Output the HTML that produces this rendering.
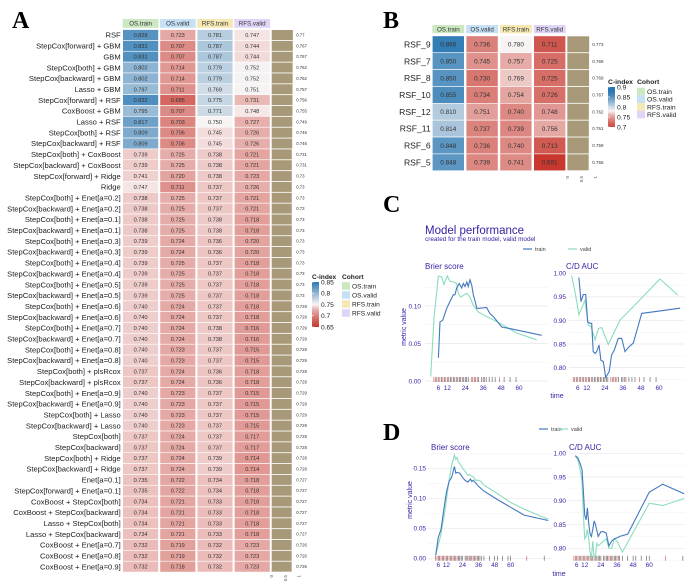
<!DOCTYPE html>
<html><head><meta charset="utf-8">
<style>
html,body{margin:0;padding:0;background:#fff;}
svg{display:block;font-family:"Liberation Sans",sans-serif;}
</style></head>
<body>
<svg id="fig" width="685" height="584" viewBox="0 0 685 584" xmlns="http://www.w3.org/2000/svg">
<text x="12" y="28" font-family="Liberation Serif" font-weight="bold" font-size="24">A</text>
<text x="383" y="28" font-family="Liberation Serif" font-weight="bold" font-size="24">B</text>
<text x="383" y="212" font-family="Liberation Serif" font-weight="bold" font-size="24">C</text>
<text x="383" y="440" font-family="Liberation Serif" font-weight="bold" font-size="24">D</text>
</svg>
<script>
// ---------- Panel A data ----------
const aModels = ["RSF","StepCox[forward] + GBM","GBM","StepCox[both] + GBM","StepCox[backward] + GBM","Lasso + GBM","StepCox[forward] + RSF","CoxBoost + GBM","Lasso + RSF","StepCox[both] + RSF","StepCox[backward] + RSF","StepCox[both] + CoxBoost","StepCox[backward] + CoxBoost","StepCox[forward] + Ridge","Ridge","StepCox[both] + Enet[a=0.2]","StepCox[backward] + Enet[a=0.2]","StepCox[both] + Enet[a=0.1]","StepCox[backward] + Enet[a=0.1]","StepCox[both] + Enet[a=0.3]","StepCox[backward] + Enet[a=0.3]","StepCox[both] + Enet[a=0.4]","StepCox[backward] + Enet[a=0.4]","StepCox[both] + Enet[a=0.5]","StepCox[backward] + Enet[a=0.5]","StepCox[both] + Enet[a=0.6]","StepCox[backward] + Enet[a=0.6]","StepCox[both] + Enet[a=0.7]","StepCox[backward] + Enet[a=0.7]","StepCox[both] + Enet[a=0.8]","StepCox[backward] + Enet[a=0.8]","StepCox[both] + plsRcox","StepCox[backward] + plsRcox","StepCox[both] + Enet[a=0.9]","StepCox[backward] + Enet[a=0.9]","StepCox[both] + Lasso","StepCox[backward] + Lasso","StepCox[both]","StepCox[backward]","StepCox[both] + Ridge","StepCox[backward] + Ridge","Enet[a=0.1]","StepCox[forward] + Enet[a=0.1]","CoxBoost + StepCox[both]","CoxBoost + StepCox[backward]","Lasso + StepCox[both]","Lasso + StepCox[backward]","CoxBoost + Enet[a=0.7]","CoxBoost + Enet[a=0.8]","CoxBoost + Enet[a=0.9]"];
const aOsTrain = [0.828,0.831,0.831,0.802,0.802,0.797,0.832,0.795,0.817,0.809,0.809,0.739,0.739,0.741,0.747,0.738,0.738,0.738,0.738,0.739,0.739,0.739,0.739,0.739,0.739,0.740,0.740,0.740,0.740,0.740,0.740,0.737,0.737,0.740,0.740,0.740,0.740,0.737,0.737,0.737,0.737,0.735,0.735,0.734,0.734,0.734,0.734,0.732,0.732,0.732];
const aOsValid = [0.723,0.707,0.707,0.714,0.714,0.711,0.685,0.707,0.703,0.706,0.706,0.725,0.725,0.720,0.711,0.725,0.725,0.725,0.725,0.724,0.724,0.725,0.725,0.725,0.725,0.724,0.724,0.724,0.724,0.723,0.723,0.724,0.724,0.723,0.723,0.723,0.723,0.724,0.724,0.724,0.724,0.722,0.722,0.721,0.721,0.721,0.721,0.719,0.719,0.718];
const aRfsTrain = [0.781,0.787,0.787,0.779,0.779,0.769,0.775,0.771,0.750,0.745,0.745,0.738,0.738,0.738,0.737,0.737,0.737,0.738,0.738,0.736,0.736,0.737,0.737,0.737,0.737,0.737,0.737,0.738,0.738,0.737,0.737,0.736,0.736,0.737,0.737,0.737,0.737,0.737,0.737,0.739,0.739,0.734,0.734,0.733,0.733,0.733,0.733,0.732,0.732,0.732];
const aRfsValid = [0.747,0.744,0.744,0.752,0.752,0.751,0.731,0.748,0.727,0.726,0.726,0.721,0.721,0.723,0.726,0.721,0.721,0.718,0.718,0.720,0.720,0.718,0.718,0.718,0.718,0.718,0.718,0.716,0.716,0.715,0.715,0.718,0.718,0.715,0.715,0.715,0.715,0.717,0.717,0.714,0.714,0.718,0.718,0.718,0.718,0.718,0.718,0.723,0.723,0.723];
const aMean = [0.77,0.767,0.767,0.762,0.762,0.757,0.756,0.755,0.749,0.746,0.746,0.731,0.731,0.73,0.73,0.73,0.73,0.73,0.73,0.73,0.73,0.73,0.73,0.73,0.73,0.729,0.729,0.729,0.729,0.729,0.729,0.729,0.729,0.729,0.729,0.729,0.729,0.728,0.728,0.728,0.728,0.727,0.727,0.727,0.727,0.727,0.727,0.726,0.726,0.726];
const aLegendTicks = [0.85,0.8,0.75,0.7,0.65];

// ---------- Panel B data ----------
const bModels = ["RSF_9","RSF_7","RSF_8","RSF_10","RSF_12","RSF_11","RSF_6","RSF_5"];
const bOsTrain = [0.866,0.850,0.850,0.855,0.810,0.814,0.848,0.848];
const bOsValid = [0.736,0.745,0.730,0.734,0.751,0.737,0.736,0.739];
const bRfsTrain = [0.780,0.757,0.769,0.754,0.740,0.739,0.740,0.741];
const bRfsValid = [0.711,0.725,0.725,0.726,0.748,0.756,0.713,0.691];
const bMean = [0.773,0.769,0.769,0.767,0.762,0.761,0.759,0.755];
const bLegendTicks = [0.9,0.85,0.8,0.75,0.7];

const cohorts = ["OS.train","OS.valid","RFS.train","RFS.valid"];
const barTicks = ["0","0.5","1"];

// ---------- Panel C data ----------
const cBrierTrainT = [6,7.1,8.9,11.6,13.8,16,17.1,18.3,20,21.6,22.7,23.8,25,26,27.2,28.3,29.4,30.1,31.7,33.4,38.3,40.5,42.8,48.4,56.2,75.2];
const cBrierTrainV = [0.031,0.079,0.081,0.097,0.106,0.115,0.115,0.124,0.130,0.124,0.130,0.126,0.132,0.126,0.135,0.128,0.115,0.110,0.097,0.097,0.098,0.090,0.086,0.072,0.069,0.061];
const cBrierValidT = [0.9,3.1,6,8.2,9.8,12,13.8,16,18.3,19.3,20.9,25,27.2,29.4,32.7,38.3,47.3,58.4,71.8];
const cBrierValidV = [0.006,0.084,0.140,0.139,0.129,0.140,0.133,0.132,0.130,0.117,0.112,0.117,0.112,0.101,0.092,0.086,0.077,0.064,0.055];
const cAucTrainT = [6.8,8.2,9.7,11.3,12.6,14.1,15.3,16.3,17.5,18.6,20.1,21.4,23,24.6,26.8,28.5,30.3,32.9,35.2,37.4,40,42.9,48.5,74];
const cAucTrainV = [0.991,0.940,0.955,0.955,0.897,0.894,0.894,0.834,0.830,0.834,0.848,0.816,0.813,0.779,0.791,0.827,0.837,0.862,0.862,0.834,0.844,0.852,0.915,0.926];
const cAucValidT = [2,4.2,6.8,8.6,10.8,13,14.8,17.5,19.7,21.9,26.3,34.1,41.8,60.6,72.4];
const cAucValidV = [0.995,0.961,0.912,0.926,0.943,0.890,0.887,0.859,0.883,0.885,0.849,0.901,0.926,0.988,0.954];
const cRugT = [3,4,5,6,7,8,9,10,11,12,13,14,15,16,17,18,19,20,21,22,23,24,25,26,28,29,30,31,32,33,35,36,37,38,40,42,44,47,50,54,58];
const cRugEvent = [1,1,0,1,1,0,1,0,1,1,0,0,1,0,0,1,0,0,0,1,0,0,0,0,1,1,0,1,1,0,0,0,1,0,0,0,0,1,0,0,0];

// ---------- Panel D data ----------
const dBrierTrainT = [4,6,8,10,12,14,16,18,19,20,22,24,26,28,30,31,32,34,36,40,50,60,70,88];
const dBrierTrainV = [0.005,0.035,0.048,0.08,0.11,0.128,0.135,0.153,0.142,0.143,0.142,0.135,0.13,0.127,0.132,0.128,0.130,0.125,0.12,0.112,0.098,0.085,0.072,0.063];
const dBrierValidT = [4,8,11,14,16,18,19,20,21,22,24,26,28,29,30,32,34,36,38,40,50,60,70,88];
const dBrierValidV = [0.005,0.04,0.08,0.13,0.155,0.172,0.165,0.168,0.160,0.158,0.150,0.145,0.138,0.140,0.138,0.136,0.130,0.130,0.128,0.122,0.108,0.093,0.082,0.065];
const dAucTrainT = [5,7,9,10,11,12,13,14,15,16,17,18,19,20,22,24,26,28,30,32,34,36,38,44,60,70,86];
const dAucTrainV = [0.995,0.99,0.975,0.965,0.92,0.87,0.86,0.885,0.85,0.83,0.825,0.84,0.858,0.85,0.825,0.835,0.835,0.832,0.805,0.815,0.82,0.822,0.825,0.83,0.918,0.935,0.915];
const dAucValidT = [5,7,9,10,11,12,13,14,15,16,17,18,19,20,21,22,24,26,28,30,32,34,36,40,60,70,86];
const dAucValidV = [0.995,0.985,0.96,0.94,0.87,0.82,0.825,0.84,0.82,0.79,0.78,0.815,0.78,0.785,0.81,0.805,0.81,0.815,0.82,0.80,0.80,0.82,0.815,0.792,0.895,0.89,0.905];
const dRugT = [4,5,6,7,8,9,10,11,12,13,14,15,16,17,18,19,20,21,22,23,24,26,27,28,29,30,31,32,33,34,35,36,37,38,40,44,48,50,54,58,60,72,85];
const dRugEvent = [1,1,1,0,1,1,0,1,1,0,1,1,0,1,0,1,1,0,0,0,0,0,1,0,0,1,0,1,0,1,0,0,1,0,0,0,0,0,0,0,0,1,0];
const xTicks = [6,12,24,36,48,60];

const NS = "http://www.w3.org/2000/svg";
const svg = document.getElementById("fig");
function el(tag, attrs, parent, txt){
  const e = document.createElementNS(NS, tag);
  for (const k in attrs) e.setAttribute(k, attrs[k]);
  if (txt !== undefined) e.textContent = txt;
  (parent || svg).appendChild(e);
  return e;
}
function hex(c){return [parseInt(c.slice(1,3),16),parseInt(c.slice(3,5),16),parseInt(c.slice(5,7),16)];}
function mix(a,b,t){const A=hex(a),B=hex(b);return "rgb("+A.map((v,i)=>Math.round(v+(B[i]-v)*t)).join(",")+")";}
function colorScale(lo,mid,hi){
  return function(v){
    if (v<mid){let t=Math.min(1,(mid-v)/(mid-lo));return mix("#f8f4f4","#c8372d",Math.pow(t,0.7));}
    let t=Math.min(1,(v-mid)/(hi-mid));return mix("#f8f4f4","#2a78b2",t);
  };
}
const cohortColors = ["#cbe8c3","#c6e0f6","#f6e8b3","#e0d5f7"];
function fmtMean(v){return String(parseFloat(v.toFixed(3)));}

function heatmap(cfg){
  const g = el("g",{});
  
  
  const series = [cfg.c1,cfg.c2,cfg.c3,cfg.c4];
  const col = colorScale(cfg.lo,cfg.mid,cfg.hi);
  cohorts.forEach((c,j)=>{
    const x = cfg.x0 + j*cfg.pitch;
    const r = el("rect",{x:x,y:cfg.hy,width:cfg.cw,height:cfg.hh,fill:cohortColors[j]},g);
    
    
    const t = el("text",{x:x+cfg.cw/2,y:cfg.hy+cfg.hh/2+cfg.hf*0.36,"text-anchor":"middle","font-size":cfg.hf,fill:"#333"},g,c);
    
    
  });
  cfg.models.forEach((m,i)=>{
    const cy = cfg.y0 + i*cfg.rp;
    const lab = el("text",{x:cfg.lx,y:cy+cfg.lf*0.36,"text-anchor":"end","font-size":cfg.lf,fill:"#222"},g,m);
    
    
    series.forEach((s,j)=>{
      const x = cfg.x0 + j*cfg.pitch;
      const r = el("rect",{x:x,y:cy-cfg.rp/2,width:cfg.cw,height:cfg.rp,fill:col(s[i]),stroke:"#fff","stroke-width":0.6},g);
      
      
      const t = el("text",{x:x+cfg.cw/2,y:cy+cfg.cf*0.36,"text-anchor":"middle","font-size":cfg.cf,fill:"#333"},g,s[i].toFixed(3));
      
      
    });
    const bw = cfg.mean[i]*cfg.bscale;
    const b = el("rect",{x:cfg.bx,y:cy-cfg.rh/2,width:bw,height:cfg.rh,fill:"#a89a78"},g);
    
    
    const bt = el("text",{x:cfg.bx+cfg.bw+3,y:cy+cfg.mf*0.36,"font-size":cfg.mf,fill:"#333"},g,fmtMean(cfg.mean[i]));
    
    
  });
  barTicks.forEach((tk)=>{
    const x = cfg.bx + parseFloat(tk)*cfg.bscale;
    const t = el("text",{x:0,y:0,"font-size":4.5,fill:"#555","text-anchor":"end",transform:"translate("+(x+1.5)+","+cfg.tky+") rotate(-90)"},g,tk);
    
    
  });
  const L = cfg.leg;
  const gid = "grad"+cfg.name;
  const defs = el("defs",{},g);
  const lg = el("linearGradient",{id:gid,x1:0,y1:0,x2:0,y2:1},defs);
  for (let k=0;k<=10;k++){
    const v = cfg.legHi - (cfg.legHi-cfg.legLo)*k/10;
    el("stop",{offset:(k*10)+"%","stop-color":col(v)},lg);
  }
  const tt = el("text",{x:L.x,y:L.ty,"font-size":L.f,"font-weight":"bold",fill:"#222"},g,"C-index");
  
  
  const cb = el("rect",{x:L.x,y:L.y0,width:7,height:L.y1-L.y0,fill:"url(#"+gid+")"},g);
  
  
  cfg.legTicks.forEach(v=>{
    const y = L.y0 + (cfg.legHi-v)/(cfg.legHi-cfg.legLo)*(L.y1-L.y0);
    el("line",{x1:L.x,x2:L.x+2,y1:y,y2:y,stroke:"#fff","stroke-width":0.6},g);
    const t = el("text",{x:L.x+9,y:y+L.f*0.36,"font-size":L.f,fill:"#222"},g,String(v));
    
    
  });
  const ct = el("text",{x:L.cx,y:L.ty,"font-size":L.f,"font-weight":"bold",fill:"#222"},g,"Cohort");
  
  
  cohorts.forEach((c,j)=>{
    const y = L.cy0 + j*L.cp;
    const r = el("rect",{x:L.cx,y:y-3.8,width:8,height:7.6,fill:cohortColors[j]},g);
    
    
    const t = el("text",{x:L.cx+10,y:y+L.f*0.36,"font-size":L.f,fill:"#222"},g,c);
    
    
  });
}

heatmap({name:"heatmap-a",models:aModels,c1:aOsTrain,c2:aOsValid,c3:aRfsTrain,c4:aRfsValid,mean:aMean,
  lo:0.65,mid:0.75,hi:0.85,x0:122.7,pitch:37.2,cw:35.8,hy:19,hh:8.8,hf:6.2,y0:35,rp:10.85,rh:10,
  lx:120.7,lf:7.6,cf:5.6,bx:271.7,bw:21.5,bscale:27.5,mf:4.3,tky:575,
  legLo:0.65,legHi:0.85,legTicks:aLegendTicks,
  leg:{x:312,ty:279,y0:282,y1:327,f:6.6,cx:342,cy0:286,cp:9}});
heatmap({name:"heatmap-b",models:bModels,c1:bOsTrain,c2:bOsValid,c3:bRfsTrain,c4:bRfsValid,mean:bMean,
  lo:0.69,mid:0.78,hi:0.87,x0:432.3,pitch:33.8,cw:32,hy:25,hh:8.2,hf:6.2,y0:44.3,rp:16.86,rh:16,
  lx:430.7,lf:8.6,cf:6.4,bx:567.3,bw:22,bscale:28.3,mf:4.5,tky:176,
  legLo:0.7,legHi:0.9,legTicks:bLegendTicks,
  leg:{x:608,ty:84,y0:87,y1:127,f:6.8,cx:637,cy0:91.5,cp:7.7}});

const PUR = "#371ea3", TRAIN = "#4378bf", VALID = "#8bdcbe";
function linePanel(p){
  const g = el("g",{});
  
  
  const X = t => p.x0 + p.sx*t;
  const Y = v => p.yRef - (v - p.vRef)*p.sy;
  const cid = "clip-"+p.name;
  const cp = el("clipPath",{id:cid},g);
  el("rect",{x:p.left,y:p.top,width:p.right-p.left,height:p.bottom-p.top},cp);
  for (let v=p.gLo; v<=p.gHi+1e-9; v+=p.gStep/2){
    const y=Y(v); if (y<p.top||y>p.bottom+1) continue;
    const major = Math.abs(Math.round(v/p.gStep)*p.gStep - v) < 1e-6;
    const gl = el("line",{x1:p.left,x2:p.right,y1:y,y2:y,stroke:major?"#e6e6ee":"#f2f2f6","stroke-width":major?0.7:0.5},g);
    
    
  }
  p.yTicks.forEach(v=>{
    const t = el("text",{x:p.ylx,y:Y(v)+2.3,"text-anchor":"end","font-size":6.4,fill:PUR},g,v.toFixed(2));
    
    
  });
  xTicks.forEach(t=>{
    const tx = el("text",{x:X(t),y:p.xly,"text-anchor":"middle","font-size":6.4,fill:PUR},g,String(t));
    
    
  });
  p.rugT.forEach((t,i)=>{
    const rl = el("line",{x1:X(t),x2:X(t),y1:p.rugY-2.5,y2:p.rugY+2.5,stroke:p.rugE[i]?"#c0504d":"#555","stroke-width":0.6},g);
    
    
  });
  const title = el("text",{x:p.titleX,y:p.titleY,"font-size":8,fill:PUR},g,p.title);
  
  
  [[p.vT,p.vV,VALID,"valid-line"],[p.tT,p.tV,TRAIN,"train-line"]].forEach(s=>{
    const d = s[0].map((t,i)=>(i?"L":"M")+X(t).toFixed(1)+","+Y(s[1][i]).toFixed(1)).join(" ");
    const path = el("path",{d:d,fill:"none",stroke:s[2],"stroke-width":1.1,"clip-path":"url(#"+cid+")"},g);
    
    
  });
}

linePanel({name:"c-brier-plot",title:"Brier score",titleX:425,titleY:269,x0:429.4,sx:1.494,yRef:381,vRef:0,sy:750,
  left:425,right:548,top:272,bottom:381,gLo:0,gHi:0.15,gStep:0.05,yTicks:[0,0.05,0.1],ylx:421,xly:390,
  rugT:cRugT,rugE:cRugEvent,rugY:379.5,tT:cBrierTrainT,tV:cBrierTrainV,vT:cBrierValidT,vV:cBrierValidV});
linePanel({name:"c-auc-plot",title:"C/D AUC",titleX:566,titleY:269,x0:568.7,sx:1.506,yRef:273.3,vRef:1,sy:471.5,
  left:569,right:685,top:270,bottom:381,gLo:0.75,gHi:1.0,gStep:0.05,yTicks:[0.8,0.85,0.9,0.95,1.0],ylx:566,xly:390,
  rugT:cRugT,rugE:cRugEvent,rugY:379.5,tT:cAucTrainT,tV:cAucTrainV,vT:cAucValidT,vV:cAucValidV});
linePanel({name:"d-brier-plot",title:"Brier score",titleX:431,titleY:450,x0:430.3,sx:1.34,yRef:558.3,vRef:0,sy:600,
  left:428,right:552,top:452,bottom:560,gLo:0,gHi:0.175,gStep:0.05,yTicks:[0,0.05,0.1,0.15],ylx:426,xly:567,
  rugT:dRugT,rugE:dRugEvent,rugY:558.3,tT:dBrierTrainT,tV:dBrierTrainV,vT:dBrierValidT,vV:dBrierValidV});
linePanel({name:"d-auc-plot",title:"C/D AUC",titleX:569,titleY:450,x0:568.6,sx:1.344,yRef:453.3,vRef:1,sy:475,
  left:569,right:685,top:452,bottom:560,gLo:0.775,gHi:1.0,gStep:0.05,yTicks:[0.8,0.85,0.9,0.95,1.0],ylx:566,xly:567,
  rugT:dRugT,rugE:dRugEvent,rugY:558.3,tT:dAucTrainT,tV:dAucTrainV,vT:dAucValidT,vV:dAucValidV});

let e;
e = el("text",{x:425,y:234,"font-size":11.5,fill:PUR},svg,"Model performance");


e = el("text",{x:425,y:241,"font-size":6.4,fill:PUR},svg,"created for the train model, valid model");


[[406,327],[412,500]].forEach(pt=>{
  e = el("text",{x:0,y:0,"font-size":7,fill:PUR,"text-anchor":"middle",transform:"translate("+pt[0]+","+pt[1]+") rotate(-90)"},svg,"metric value");
  
  
});
[[557,398],[559,576]].forEach(pt=>{
  e = el("text",{x:pt[0],y:pt[1],"font-size":7,fill:PUR,"text-anchor":"middle"},svg,"time");
  
  
});
[[523,249,568],[539,429,559]].forEach(L=>{
  e = el("line",{x1:L[0],x2:L[0]+9,y1:L[1],y2:L[1],stroke:TRAIN,"stroke-width":1.2},svg);
  
  
  e = el("text",{x:L[0]+12,y:L[1]+2,"font-size":5.5,fill:"#444"},svg,"train");
  
  
  e = el("line",{x1:L[2],x2:L[2]+9,y1:L[1],y2:L[1],stroke:VALID,"stroke-width":1.2},svg);
  
  
  e = el("text",{x:L[2]+12,y:L[1]+2,"font-size":5.5,fill:"#444"},svg,"valid");
  
  
});
</script>
</body></html>
